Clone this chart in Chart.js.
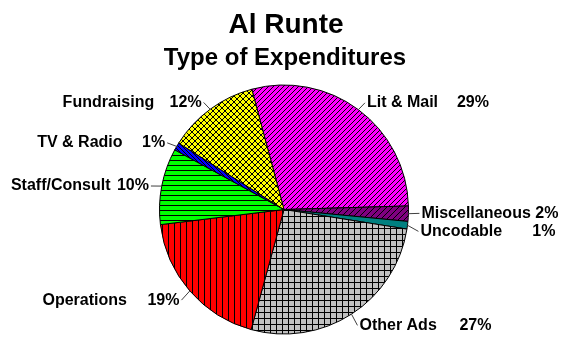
<!doctype html>
<html>
<head>
<meta charset="utf-8">
<title>Al Runte - Type of Expenditures</title>
<script src="https://cdn.jsdelivr.net/npm/chart.js@4"></script>
<style>
  html,body{margin:0;padding:0;background:#fff}
  canvas{display:block}
</style>
</head>
<body>
<canvas id="pie" width="561" height="337"></canvas>
<script>
// expenditure categories, clockwise from the top
const categories = ['Lit & Mail', 'Miscellaneous', 'Uncodable', 'Other Ads', 'Operations', 'Staff/Consult', 'TV & Radio', 'Fundraising'];
const shares = [29, 2, 1, 27, 19, 10, 1, 12];
const chartTitle = 'Al Runte';
const chartSubtitle = 'Type of Expenditures';

// fill colour + hatch kind per slice
const fills = ['#FF00FF', '#800080', '#008080', '#C0C0C0', '#FF0000', '#00FF00', '#0000FF', '#FFFF00'];
const hatches = ['fwd', 'fwd', 'none', 'grid', 'vert', 'horiz', 'back', 'cross'];
const hatchSize = [5, 6, 4, 6, 6, 5, 4, 6];
// distance from name start to end of percent, per label
const labelSpan = [122, 137, 135, 132, 137, 138, 128, 139];

const canvas = document.getElementById('pie');
const ctx = canvas.getContext('2d');

function hatch(bg, kind, size) {
  const c = document.createElement('canvas');
  c.width = c.height = size;
  const g = c.getContext('2d');
  g.fillStyle = bg;
  g.fillRect(0, 0, size, size);
  g.fillStyle = '#000';
  for (let i = 0; i < size; i++) {
    if (kind === 'fwd' || kind === 'cross') g.fillRect(i, size - 1 - i, 1, 1);
    if (kind === 'back' || kind === 'cross') g.fillRect(i, i, 1, 1);
  }
  if (kind === 'vert' || kind === 'grid') g.fillRect(0, 0, 1, size);
  if (kind === 'horiz' || kind === 'grid') g.fillRect(0, 0, size, 1);
  return ctx.createPattern(c, 'repeat');
}

const patterns = fills.map((f, i) => hatch(f, hatches[i], hatchSize[i]));

const whiteBg = {
  id: 'whiteBg',
  beforeDraw(chart) {
    const c = chart.ctx;
    c.save();
    c.fillStyle = '#fff';
    c.fillRect(0, 0, chart.width, chart.height);
    c.restore();
  }
};

const titles = {
  id: 'titles',
  afterDraw(chart) {
    const c = chart.ctx;
    c.save();
    c.fillStyle = '#000';
    c.textAlign = 'center';
    c.textBaseline = 'alphabetic';
    c.font = 'bold 28px Arial';
    c.fillText(chartTitle, 286, 33);
    c.font = 'bold 24px Arial';
    c.fillText(chartSubtitle, 285, 65);
    c.restore();
  }
};

// outside labels with short leader lines
const sliceLabels = {
  id: 'sliceLabels',
  afterDraw(chart) {
    const c = chart.ctx;
    const meta = chart.getDatasetMeta(0);
    const items = meta.data.map((arc, i) => {
      const p = arc.getProps(['x', 'y', 'startAngle', 'endAngle', 'outerRadius'], true);
      const mid = (p.startAngle + p.endAngle) / 2;
      const cos = Math.cos(mid), sin = Math.sin(mid);
      return {
        i,
        right: cos >= 0,
        ex: p.x + cos * p.outerRadius,
        ey: p.y + sin * p.outerRadius,
        ax: p.x + cos * (p.outerRadius + 11),
        ly: p.y + sin * (p.outerRadius + 11) + 2
      };
    });
    // spread labels that would overlap on the same side
    [true, false].forEach(side => {
      const list = items.filter(o => o.right === side).sort((a, b) => a.ly - b.ly);
      for (let k = 1; k < list.length; k++) {
        const gap = list[k].ly - list[k - 1].ly;
        if (gap < 18) {
          const push = (18 - gap) / 2;
          list[k - 1].ly -= push;
          list[k].ly += push;
        }
      }
    });
    c.save();
    c.strokeStyle = '#404040';
    c.lineWidth = 1;
    c.fillStyle = '#000';
    c.font = 'bold 16px Arial';
    c.textBaseline = 'middle';
    items.forEach(o => {
      c.beginPath();
      c.moveTo(o.ex, o.ey);
      c.lineTo(o.ax, o.ly);
      c.stroke();
      const name = categories[o.i];
      const pct = shares[o.i] + '%';
      const span = labelSpan[o.i];
      if (o.right) {
        const x0 = o.ax + 2;
        c.textAlign = 'left';
        c.fillText(name, x0, o.ly);
        c.textAlign = 'right';
        c.fillText(pct, x0 + span, o.ly);
      } else {
        const x1 = o.ax - 2;
        c.textAlign = 'right';
        c.fillText(pct, x1, o.ly);
        c.textAlign = 'left';
        c.fillText(name, x1 - span, o.ly);
      }
    });
    c.restore();
  }
};

new Chart(ctx, {
  type: 'pie',
  data: {
    labels: categories,
    datasets: [{
      data: shares,
      backgroundColor: patterns,
      borderColor: '#000',
      borderWidth: 1,
      hoverOffset: 0
    }]
  },
  options: {
    responsive: false,
    animation: false,
    events: [],
    rotation: -15,
    layout: { padding: { top: 84, bottom: 2, left: 159, right: 152 } },
    plugins: {
      legend: { display: false },
      tooltip: { enabled: false },
      title: { display: false }
    }
  },
  plugins: [whiteBg, titles, sliceLabels]
});
</script>
</body>
</html>
